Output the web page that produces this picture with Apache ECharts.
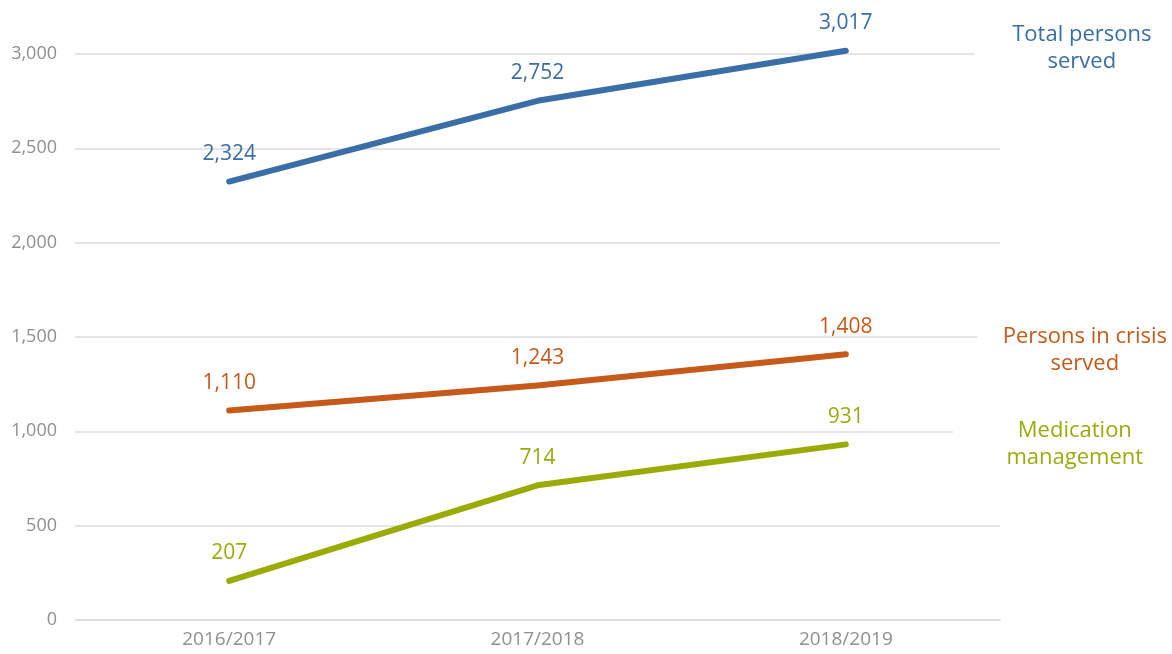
<!DOCTYPE html>
<html>
<head>
<meta charset="utf-8">
<style>
  html, body { margin: 0; padding: 0; background: #fff; }
  #chart { width: 1172px; height: 654px; }
</style>
<script src="https://cdn.jsdelivr.net/npm/echarts@6/dist/echarts.min.js"></script>
</head>
<body>
<div id="chart"></div>
<script>
// Fiscal years on the category axis
const years = ['2016/2017', '2017/2018', '2018/2019'];

// Persons counts per fiscal year
const totalServed = [2324, 2752, 3017];
const crisisServed = [1110, 1243, 1408];
const medicationMgmt = [207, 714, 931];

// Value-axis ticks
const yTicks = [0, 500, 1000, 1500, 2000, 2500, 3000];

const FONT = '"Open Sans", "Liberation Sans", sans-serif';
const fmt = v => Number(v).toLocaleString('en-US');

// Series title at the right end of each line; a short spacer row nudges it upward
function titleText(lines) {
  return lines.map(l => '{t|' + l + '}').join('\n') + '\n{s| }';
}

function lineSeries(name, titleLines, values, color, textColor, endDistance, boxWidth, spacer) {
  return {
    name: name,
    type: 'line',
    data: values,
    clip: false,
    symbol: 'circle',
    symbolSize: 2,
    showSymbol: true,
    smooth: false,
    lineStyle: { color: color, width: 6, cap: 'round', join: 'round' },
    itemStyle: { color: color },
    label: {
      show: true,
      position: 'top',
      distance: 16,
      color: textColor,
      fontFamily: FONT,
      fontSize: 21,
      formatter: p => fmt(p.value)
    },
    endLabel: {
      show: true,
      formatter: titleText(titleLines),
      distance: endDistance,
      align: 'center',
      verticalAlign: 'middle',
      color: textColor,
      fontFamily: FONT,
      fontSize: 22,
      width: boxWidth,
      backgroundColor: '#ffffff',
      padding: [6, 10, 6, 10],
      rich: {
        t: { color: textColor, fontFamily: FONT, fontSize: 22, lineHeight: 27, align: 'center' },
        s: { fontSize: 4, lineHeight: spacer, align: 'center' }
      }
    },
    emphasis: { disabled: true }
  };
}

const chart = echarts.init(document.getElementById('chart'), null, { renderer: 'canvas' });
chart.setOption({
  animation: false,
  backgroundColor: '#ffffff',
  grid: { left: 75, right: 172, top: 54, bottom: 34, containLabel: false },
  xAxis: {
    type: 'category',
    data: years,
    boundaryGap: true,
    axisLine: { show: true, lineStyle: { color: '#dcdcdc', width: 1.5 } },
    axisTick: { show: false },
    axisLabel: { color: '#8f8f8f', fontFamily: FONT, fontSize: 19, margin: 10 }
  },
  yAxis: {
    type: 'value',
    min: yTicks[0],
    max: yTicks[yTicks.length - 1],
    interval: yTicks[1] - yTicks[0],
    axisLine: { show: false },
    axisTick: { show: false },
    splitLine: { show: true, lineStyle: { color: '#dcdcdc', width: 1.5 } },
    axisLabel: { color: '#8f8f8f', fontFamily: FONT, fontSize: 18, margin: 18, formatter: v => fmt(v) }
  },
  series: [
    lineSeries('total', ['Total persons', 'served'], totalServed, '#3a6ea6', '#3a6ea6', 236, 195, 6),
    lineSeries('crisis', ['Persons in crisis', 'served'], crisisServed, '#c55a1a', '#c55a1a', 239, 195, 9),
    lineSeries('medication', ['Medication', 'management'], medicationMgmt, '#9aab06', '#9aab10', 229, 224, 0)
  ]
});
</script>
</body>
</html>
